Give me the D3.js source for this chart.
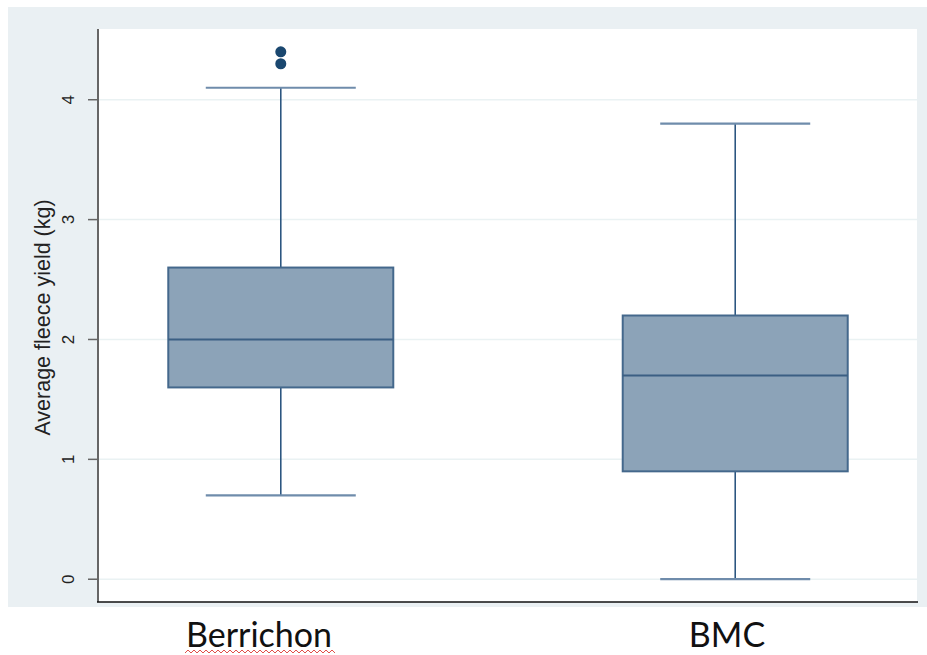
<!DOCTYPE html>
<html>
<head>
<meta charset="utf-8">
<script src="https://cdn.jsdelivr.net/npm/d3@7"></script>
<style>
  body { margin: 0; background: #fff; }
  svg { display: block; }
</style>
</head>
<body>
<svg id="chart" width="927" height="655"></svg>
<script>
// box plot summaries
const groups = ['Berrichon', 'BMC'];
const lowerWhisker = [0.7, 0.0];
const q1 = [1.6, 0.9];
const median = [2.0, 1.7];
const q3 = [2.6, 2.2];
const upperWhisker = [4.1, 3.8];
const outliers = [[4.3, 4.4], []];
const yTicks = [0, 1, 2, 3, 4];

const svg = d3.select('#chart');
const plot = {left: 99, right: 917, top: 29, bottom: 602};

// light grey-blue backdrop behind the graph region
svg.append('rect')
    .attr('x', 8).attr('y', 7).attr('width', 919).attr('height', 600)
    .attr('fill', '#eaf0f3');
svg.append('rect')
    .attr('x', plot.left).attr('y', plot.top)
    .attr('width', plot.right - plot.left).attr('height', plot.bottom - plot.top)
    .attr('fill', '#ffffff');

const x = d3.scalePoint().domain(groups).range([plot.left, plot.right]).padding(0.4);
const y = d3.scaleLinear().domain([-0.19, 4.59]).range([plot.bottom, plot.top]);

// grid
svg.append('g').selectAll('line').data(yTicks).join('line')
    .attr('x1', plot.left).attr('x2', plot.right)
    .attr('y1', d => y(d)).attr('y2', d => y(d))
    .attr('stroke', '#eaf2f3').attr('stroke-width', 1.5);

const boxW = 225, capW = 150;
const boxes = svg.append('g').selectAll('g').data(groups).join('g');

// whisker stems
boxes.append('line')
    .attr('x1', d => x(d)).attr('x2', d => x(d))
    .attr('y1', (d, i) => y(upperWhisker[i])).attr('y2', (d, i) => y(q3[i]))
    .attr('stroke', '#2c5680').attr('stroke-width', 1.6);
boxes.append('line')
    .attr('x1', d => x(d)).attr('x2', d => x(d))
    .attr('y1', (d, i) => y(q1[i])).attr('y2', (d, i) => y(lowerWhisker[i]))
    .attr('stroke', '#2c5680').attr('stroke-width', 1.6);

// caps
boxes.append('line')
    .attr('x1', d => x(d) - capW / 2).attr('x2', d => x(d) + capW / 2)
    .attr('y1', (d, i) => y(upperWhisker[i])).attr('y2', (d, i) => y(upperWhisker[i]))
    .attr('stroke', '#6f8cab').attr('stroke-width', 2.2);
boxes.append('line')
    .attr('x1', d => x(d) - capW / 2).attr('x2', d => x(d) + capW / 2)
    .attr('y1', (d, i) => y(lowerWhisker[i])).attr('y2', (d, i) => y(lowerWhisker[i]))
    .attr('stroke', '#6f8cab').attr('stroke-width', 2.2);

// box
boxes.append('rect')
    .attr('x', d => x(d) - boxW / 2).attr('width', boxW)
    .attr('y', (d, i) => y(q3[i])).attr('height', (d, i) => y(q1[i]) - y(q3[i]))
    .attr('fill', '#8ca3b8').attr('stroke', '#44688c').attr('stroke-width', 2);

// median
boxes.append('line')
    .attr('x1', d => x(d) - boxW / 2).attr('x2', d => x(d) + boxW / 2)
    .attr('y1', (d, i) => y(median[i])).attr('y2', (d, i) => y(median[i]))
    .attr('stroke', '#3b5f83').attr('stroke-width', 2);

// outside values
boxes.each(function (d, i) {
    d3.select(this).selectAll('circle').data(outliers[i]).join('circle')
        .attr('cx', x(d)).attr('cy', v => y(v)).attr('r', 5.5)
        .attr('fill', '#1a476f');
});

// y axis
const yAxis = svg.append('g');
yAxis.append('line')
    .attr('x1', plot.left - 1).attr('x2', plot.left - 1)
    .attr('y1', plot.top).attr('y2', plot.bottom)
    .attr('stroke', '#666').attr('stroke-width', 2);
yAxis.selectAll('.tick').data(yTicks).join('line')
    .attr('class', 'tick')
    .attr('x1', plot.left - 11).attr('x2', plot.left - 1)
    .attr('y1', d => y(d)).attr('y2', d => y(d))
    .attr('stroke', '#666').attr('stroke-width', 1.5);
yAxis.selectAll('text.lbl').data(yTicks).join('text')
    .attr('class', 'lbl')
    .attr('transform', d => `translate(74,${y(d)}) rotate(-90)`)
    .attr('text-anchor', 'middle')
    .attr('font-family', 'Liberation Sans, Arial, sans-serif')
    .attr('font-size', 17).attr('fill', '#222')
    .text(d => d);
svg.append('text')
    .attr('transform', `translate(50,${(plot.top + plot.bottom) / 2 + 2}) rotate(-90)`)
    .attr('text-anchor', 'middle')
    .attr('font-family', 'Liberation Sans, Arial, sans-serif')
    .attr('font-size', 21.5).attr('fill', '#222')
    .text('Average fleece yield (kg)');

// x axis line
svg.append('line')
    .attr('x1', plot.left - 2).attr('x2', plot.right + 1)
    .attr('y1', plot.bottom).attr('y2', plot.bottom)
    .attr('stroke', '#111').attr('stroke-width', 1.5);

// category labels under the graph
const catX = [259, 727];
svg.selectAll('text.cat').data(groups).join('text')
    .attr('class', 'cat')
    .attr('x', (d, i) => catX[i]).attr('y', 647)
    .attr('text-anchor', 'middle')
    .attr('font-family', 'Lato, Open Sans, sans-serif')
    .attr('font-size', 34).attr('fill', '#111')
    .text(d => d);

// spell-check squiggle under the first label
const wave = d3.range(185, 337, 3).map((px, k) => [px, k % 2 ? 650 : 653]);
svg.append('path')
    .attr('d', d3.line()(wave))
    .attr('fill', 'none').attr('stroke', '#e0504a').attr('stroke-width', 1);
</script>
</body>
</html>
